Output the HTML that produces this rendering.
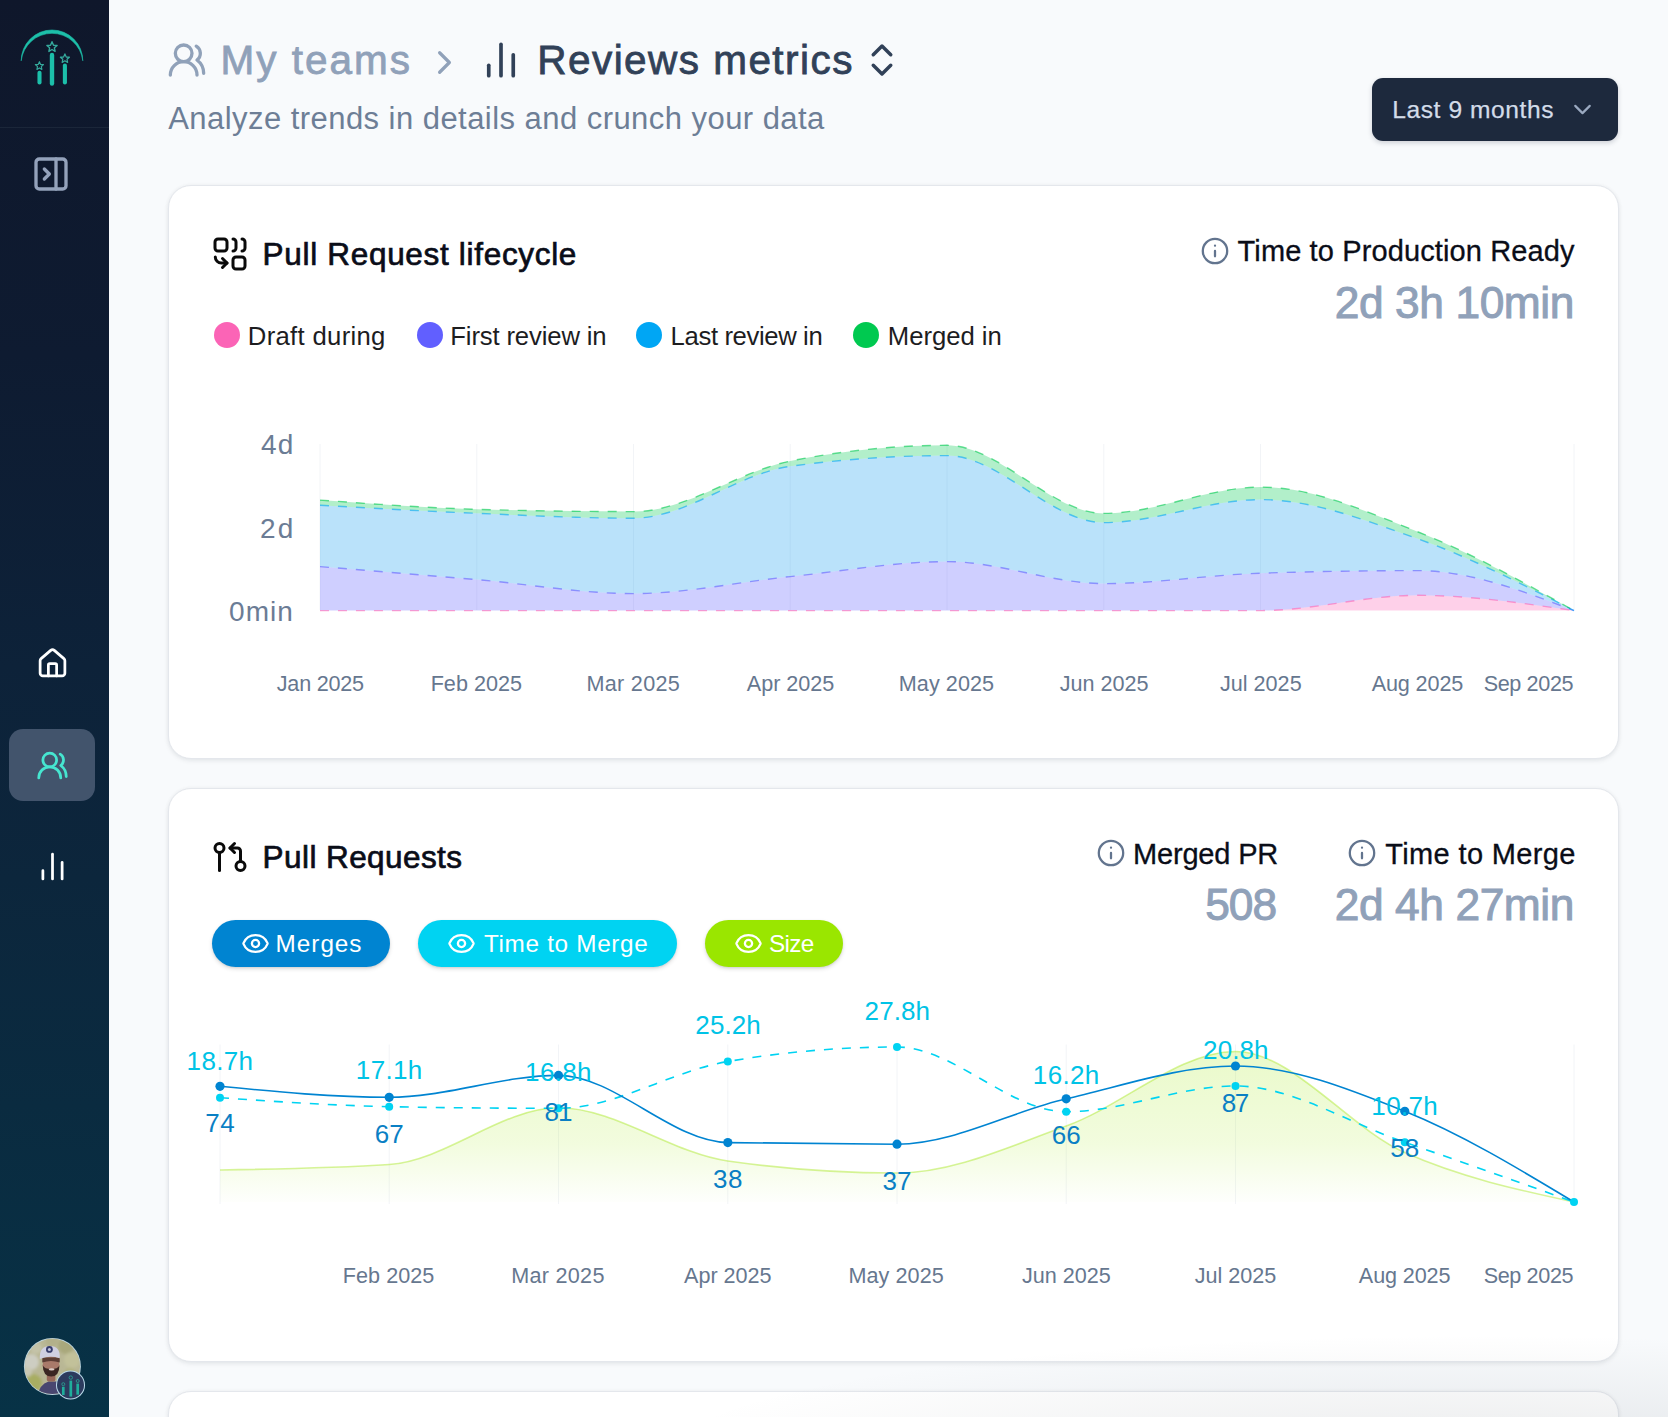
<!DOCTYPE html>
<html lang="en"><head><meta charset="utf-8"><title>Reviews metrics</title>
<style>
html,body{margin:0;padding:0}
body{width:1668px;height:1417px;overflow:hidden;background:#f8fafc;font-family:"Liberation Sans",sans-serif;position:relative}
.t{position:absolute;white-space:nowrap;line-height:1;font-weight:400}
.abs{position:absolute}
svg{position:absolute;overflow:visible}
.ic{fill:none;stroke-linecap:round;stroke-linejoin:round}
.sidebar{position:absolute;left:0;top:0;width:109px;height:1417px;background:linear-gradient(180deg,#0f172b 0%,#0e1b31 25%,#0d2239 47%,#0c263c 62%,#0a2b40 78%,#073246 100%)}
.card{position:absolute;left:168px;width:1449px;background:#fff;border:1px solid #e4e7ec;border-radius:23px;box-shadow:0 2px 5px rgba(15,23,42,.07),0 0 4px rgba(15,23,42,.04)}
.pill{position:absolute;top:920px;height:47px;border-radius:24px;box-shadow:0 2px 4px rgba(0,0,0,.13),0 1px 2px rgba(0,0,0,.08)}
.dot{position:absolute;width:26px;height:26px;border-radius:50%;top:322px}
</style></head><body>
<!-- sidebar -->
<div class="sidebar"></div>
<div class="abs" style="left:0;top:127px;width:109px;height:1px;background:#1b2639"></div>
<div class="abs" style="left:9px;top:729px;width:86px;height:72px;border-radius:14px;background:#42546c"></div>
<!-- logo -->
<svg style="left:0;top:0" width="109" height="127" viewBox="0 0 109 127">
 <path d="M21.2 60.8 A30.8 30.8 0 0 1 82.8 60.8 A31 31 0 0 0 21.2 60.8Z" fill="#1dbfa9" stroke="#1dbfa9" stroke-width="0.6" stroke-linejoin="round"/>
 <g stroke="#1cbfaa" stroke-linecap="round">
  <line x1="39.5" y1="72.8" x2="39.5" y2="82.4" stroke-width="4.1"/><line x1="52" y1="54.9" x2="52" y2="83.6" stroke-width="4.4"/><line x1="64.9" y1="65.6" x2="64.9" y2="82.4" stroke-width="4.1"/>
 </g>
 <g fill="none" stroke="#35a99c" stroke-width="1.4" stroke-linejoin="round">
  <path d="M0,-5.3 L1.5,-1.7 5.1,-1.6 2.4,0.8 3.1,4.4 0,2.5 -3.1,4.4 -2.4,0.8 -5.1,-1.6 -1.5,-1.7Z" transform="translate(52,47)"/>
  <path d="M0,-5.3 L1.5,-1.7 5.1,-1.6 2.4,0.8 3.1,4.4 0,2.5 -3.1,4.4 -2.4,0.8 -5.1,-1.6 -1.5,-1.7Z" transform="translate(39.4,65.9) scale(.8)"/>
  <path d="M0,-5.3 L1.5,-1.7 5.1,-1.6 2.4,0.8 3.1,4.4 0,2.5 -3.1,4.4 -2.4,0.8 -5.1,-1.6 -1.5,-1.7Z" transform="translate(64.9,58.6) scale(.88)"/>
 </g>
</svg>
<!-- collapse icon -->
<svg class="ic" style="left:31px;top:154.2px" width="40" height="40" viewBox="0 0 24 24" stroke="#94a2bb" stroke-width="2"><rect width="18" height="18" x="3" y="3" rx="2"/><path d="M15 3v18"/><path d="m8 9 3 3-3 3"/></svg>
<!-- home -->
<svg class="ic" style="left:36px;top:647.3px" width="33" height="33" viewBox="0 0 24 24" stroke="#fff" stroke-width="2"><path d="M15 21v-8a1 1 0 0 0-1-1h-4a1 1 0 0 0-1 1v8"/><path d="M3 10a2 2 0 0 1 .709-1.528l7-5.999a2 2 0 0 1 2.582 0l7 5.999A2 2 0 0 1 21 10v9a2 2 0 0 1-2 2H5a2 2 0 0 1-2-2z"/></svg>
<!-- teams active -->
<svg class="ic" style="left:35.8px;top:749.2px" width="33" height="33" viewBox="0 0 24 24" stroke="#46e6d0" stroke-width="2"><path d="M18 21a8 8 0 0 0-16 0"/><circle cx="10" cy="8" r="5"/><path d="M22 20c0-3.37-2-6.5-4-8a5 5 0 0 0-.45-8.3"/></svg>
<!-- bars -->
<svg class="ic" style="left:35.5px;top:849.5px" width="33" height="33" viewBox="0 0 24 24" stroke="#fff" stroke-width="2"><path d="M5 21v-6"/><path d="M12 21V3"/><path d="M19 21V9"/></svg>
<!-- avatar -->
<svg style="left:20px;top:1334px" width="70" height="70" viewBox="20 1334 70 70">
 <defs><clipPath id="av"><circle cx="52.4" cy="1366.4" r="27.6"/></clipPath>
 <filter id="b1" x="-20%" y="-20%" width="140%" height="140%"><feGaussianBlur stdDeviation="1.6"/></filter>
 <filter id="b2" x="-20%" y="-20%" width="140%" height="140%"><feGaussianBlur stdDeviation="0.55"/></filter></defs>
 <circle cx="52.4" cy="1366.4" r="28.5" fill="#bfd6df"/>
 <g clip-path="url(#av)">
  <rect x="22" y="1336" width="62" height="62" fill="#b9b795"/>
  <g filter="url(#b1)">
   <circle cx="31" cy="1362" r="8" fill="#cdcdc2"/><circle cx="36" cy="1348" r="6" fill="#c4c3a8"/><circle cx="66" cy="1346" r="8" fill="#a9a87c"/>
   <circle cx="72" cy="1360" r="8" fill="#c2c19a"/><circle cx="33" cy="1383" r="9" fill="#a8ad62"/><circle cx="70" cy="1374" r="6" fill="#b3b27f"/>
   <circle cx="52" cy="1341" r="6" fill="#b2b08a"/><circle cx="27" cy="1372" r="5" fill="#c9c8b4"/>
  </g>
  <g filter="url(#b2)">
   <path d="M37.5 1397 q1.5 -12.5 11 -15.5 l9 0 q9 2.5 13.5 15.5Z" fill="#4a476f"/>
   <rect x="46.8" y="1371" width="8.6" height="10.5" rx="2" fill="#98695a"/>
   <ellipse cx="51" cy="1365.3" rx="8.4" ry="10.2" fill="#a97a6a"/>
   <path d="M42.3 1357.5 h17.4 v5 q-8.7 -3.2 -17.4 0Z" fill="#5b3e36"/>
   <path d="M42.8 1365.5 q0.2 11 8.4 11 q8.2 0 8.2 -11 q-1.6 3.6 -8.2 3.6 q-6.6 0 -8.4 -3.6Z" fill="#3b2823"/>
   <ellipse cx="51.6" cy="1369.4" rx="2.9" ry="1.1" fill="#dccbc4"/>
   <path d="M39.8 1359 q-0.8 -13 10.2 -13 q10.4 0 9.8 12.3 q-10 -3.2 -20 .7Z" fill="#cfcfe1"/>
   <circle cx="49.4" cy="1349.4" r="3.4" fill="#393e6d"/><circle cx="49.4" cy="1349.4" r="1.5" fill="#c3c6dc"/>
  </g>
 </g>
 <circle cx="70.5" cy="1385" r="14.5" fill="#bcdceb"/>
 <circle cx="70.5" cy="1385" r="13.5" fill="#2c3b5e"/>
 <g stroke="#1fae9c" stroke-width="2.7" stroke-linecap="butt"><line x1="63.3" y1="1386.8" x2="63.3" y2="1395"/><line x1="70.8" y1="1380.6" x2="70.8" y2="1396.6"/><line x1="77.7" y1="1383.6" x2="77.7" y2="1394.7"/></g>
 <g fill="none" stroke="#2a9c90" stroke-width="0.9"><circle cx="70.8" cy="1377.6" r="1.7"/><circle cx="63.3" cy="1384.2" r="1.5"/><circle cx="77.7" cy="1381" r="1.5"/></g>
</svg>

<!-- header icons -->
<svg class="ic" style="left:167px;top:39.5px" width="40" height="40" viewBox="0 0 24 24" stroke="#90a1b9" stroke-width="2"><path d="M18 21a8 8 0 0 0-16 0"/><circle cx="10" cy="8" r="5"/><path d="M22 20c0-3.37-2-6.5-4-8a5 5 0 0 0-.45-8.3"/></svg>
<svg class="ic" style="left:425.3px;top:43px" width="39" height="39" viewBox="0 0 24 24" stroke="#90a1b9" stroke-width="2"><path d="m9 18 6-6-6-6"/></svg>
<svg class="ic" style="left:479.7px;top:39.2px" width="42" height="42" viewBox="0 0 24 24" stroke="#314158" stroke-width="2.1"><path d="M5 21v-6"/><path d="M12 21V3"/><path d="M19 21V9"/></svg>
<svg class="ic" style="left:861.2px;top:38.7px" width="42" height="42" viewBox="0 0 24 24" stroke="#314158" stroke-width="2"><path d="m7 15 5 5 5-5"/><path d="m7 9 5-5 5 5"/></svg>
<!-- button -->
<div class="abs" style="left:1372px;top:78px;width:246px;height:63px;border-radius:11px;background:#1d293d;box-shadow:0 2px 5px rgba(15,23,42,.18)"></div>
<svg class="ic" style="left:1567.9px;top:94.9px" width="29" height="29" viewBox="0 0 24 24" stroke="#9aa9c0" stroke-width="1.8"><path d="m6 9 6 6 6-6"/></svg>

<!-- cards -->
<div class="card" style="top:185px;height:572px"></div>
<div class="card" style="top:788px;height:572px"></div>
<div class="card" style="top:1391px;height:100px"></div>

<!-- card1 icons -->
<svg class="ic" style="left:212px;top:235.8px" width="36" height="36" viewBox="0 0 24 24" stroke="#0a0a0a" stroke-width="2"><rect x="2" y="2" width="8" height="8" rx="2"/><path d="M14 2a2 2 0 0 1 2 2v4a2 2 0 0 1-2 2"/><path d="M20 2a2 2 0 0 1 2 2v4a2 2 0 0 1-2 2"/><rect x="14" y="14" width="8" height="8" rx="2"/><path d="M2.2 14a4 4 0 0 0 4 4h3.8"/><path d="m7 15 3 3-3 3"/></svg>
<svg class="ic" style="left:1199.4px;top:235.2px" width="32" height="32" viewBox="0 0 24 24" stroke="#62748e" stroke-width="1.7"><circle cx="12" cy="12" r="9.15"/><path d="M12 16v-4"/><path d="M12 8h.01"/></svg>
<div class="dot" style="left:213.8px;background:#fb64b6"></div>
<div class="dot" style="left:416.7px;background:#615fff"></div>
<div class="dot" style="left:636.2px;background:#00a6f4"></div>
<div class="dot" style="left:853.3px;background:#00c950"></div>

<!-- card2 icons -->
<svg class="ic" style="left:212px;top:839px" width="36" height="36" viewBox="0 0 24 24" stroke="#0a0a0a" stroke-width="2"><circle cx="5" cy="6" r="3"/><path d="M5 9v12"/><circle cx="19" cy="18" r="3"/><path d="m15 9-3-3 3-3"/><path d="M12 6h5a2 2 0 0 1 2 2v7"/></svg>
<svg class="ic" style="left:1095.2px;top:837.2px" width="32" height="32" viewBox="0 0 24 24" stroke="#62748e" stroke-width="1.7"><circle cx="12" cy="12" r="9.15"/><path d="M12 16v-4"/><path d="M12 8h.01"/></svg>
<svg class="ic" style="left:1346.2px;top:837.2px" width="32" height="32" viewBox="0 0 24 24" stroke="#62748e" stroke-width="1.7"><circle cx="12" cy="12" r="9.15"/><path d="M12 16v-4"/><path d="M12 8h.01"/></svg>
<div class="pill" style="left:212px;width:178px;background:#0084d1"></div>
<div class="pill" style="left:418px;width:259px;background:#00d3f2"></div>
<div class="pill" style="left:705px;width:138px;background:#9ae600"></div>
<svg class="ic" style="left:240.9px;top:928.9px" width="29" height="29" viewBox="0 0 24 24" stroke="#fff" stroke-width="1.9"><path d="M2.062 12.348a1 1 0 0 1 0-.696 10.75 10.75 0 0 1 19.876 0 1 1 0 0 1 0 .696 10.75 10.75 0 0 1-19.876 0"/><circle cx="12" cy="12" r="3"/></svg>
<svg class="ic" style="left:446.9px;top:928.9px" width="29" height="29" viewBox="0 0 24 24" stroke="#fff" stroke-width="1.9"><path d="M2.062 12.348a1 1 0 0 1 0-.696 10.75 10.75 0 0 1 19.876 0 1 1 0 0 1 0 .696 10.75 10.75 0 0 1-19.876 0"/><circle cx="12" cy="12" r="3"/></svg>
<svg class="ic" style="left:733.7px;top:928.9px" width="29" height="29" viewBox="0 0 24 24" stroke="#fff" stroke-width="1.9"><path d="M2.062 12.348a1 1 0 0 1 0-.696 10.75 10.75 0 0 1 19.876 0 1 1 0 0 1 0 .696 10.75 10.75 0 0 1-19.876 0"/><circle cx="12" cy="12" r="3"/></svg>

<!-- charts -->
<svg style="left:0;top:0" width="1668" height="1417" viewBox="0 0 1668 1417">
<defs><linearGradient id="lg" x1="0" y1="1049" x2="0" y2="1202" gradientUnits="userSpaceOnUse"><stop offset="0" stop-color="#9ae600" stop-opacity=".21"/><stop offset=".62" stop-color="#9ae600" stop-opacity=".13"/><stop offset="1" stop-color="#9ae600" stop-opacity=".01"/></linearGradient></defs>
<line x1="320.0" x2="320.0" y1="444" y2="610" stroke="#f2f4f7" stroke-width="1"/>
<line x1="476.8" x2="476.8" y1="444" y2="610" stroke="#f2f4f7" stroke-width="1"/>
<line x1="633.5" x2="633.5" y1="444" y2="610" stroke="#f2f4f7" stroke-width="1"/>
<line x1="790.2" x2="790.2" y1="444" y2="610" stroke="#f2f4f7" stroke-width="1"/>
<line x1="947.0" x2="947.0" y1="444" y2="610" stroke="#f2f4f7" stroke-width="1"/>
<line x1="1103.8" x2="1103.8" y1="444" y2="610" stroke="#f2f4f7" stroke-width="1"/>
<line x1="1260.5" x2="1260.5" y1="444" y2="610" stroke="#f2f4f7" stroke-width="1"/>
<line x1="1574.0" x2="1574.0" y1="444" y2="610" stroke="#f2f4f7" stroke-width="1"/>
<path d="M320.0,610.6C372.2,610.6,424.5,610.6,476.8,610.6C529.0,610.6,581.2,610.6,633.5,610.6C685.8,610.6,738.0,610.6,790.2,610.6C842.5,610.6,894.8,610.6,947.0,610.6C999.2,610.6,1051.5,610.6,1103.8,610.6C1156.0,610.6,1208.2,610.6,1260.5,610.6C1312.8,610.6,1365.0,595.3,1417.2,595.3C1469.5,595.3,1521.8,603.0,1574.0,610.6L1574.0,610.6C1521.8,610.6,1469.5,610.6,1417.2,610.6C1365.0,610.6,1312.8,610.6,1260.5,610.6C1208.2,610.6,1156.0,610.6,1103.8,610.6C1051.5,610.6,999.2,610.6,947.0,610.6C894.8,610.6,842.5,610.6,790.2,610.6C738.0,610.6,685.8,610.6,633.5,610.6C581.2,610.6,529.0,610.6,476.8,610.6C424.5,610.6,372.2,610.6,320.0,610.6Z" fill="#fb64b6" fill-opacity="0.3"/>
<path d="M320.0,566.6C372.2,570.9,424.5,575.1,476.8,579.6C529.0,584.1,581.2,593.6,633.5,593.6C685.8,593.6,738.0,581.9,790.2,576.6C842.5,571.3,894.8,561.6,947.0,561.6C999.2,561.6,1051.5,583.6,1103.8,583.6C1156.0,583.6,1208.2,574.9,1260.5,573.2C1312.8,571.5,1365.0,570.6,1417.2,570.6C1469.5,570.6,1521.8,590.6,1574.0,610.6L1574.0,610.6C1521.8,603.0,1469.5,595.3,1417.2,595.3C1365.0,595.3,1312.8,610.6,1260.5,610.6C1208.2,610.6,1156.0,610.6,1103.8,610.6C1051.5,610.6,999.2,610.6,947.0,610.6C894.8,610.6,842.5,610.6,790.2,610.6C738.0,610.6,685.8,610.6,633.5,610.6C581.2,610.6,529.0,610.6,476.8,610.6C424.5,610.6,372.2,610.6,320.0,610.6Z" fill="#615fff" fill-opacity="0.3"/>
<path d="M320.0,505.3C372.2,508.2,424.5,511.2,476.8,513.3C529.0,515.5,581.2,518.2,633.5,518.2C685.8,518.2,738.0,473.4,790.2,466.3C842.5,459.2,894.8,455.6,947.0,455.6C999.2,455.6,1051.5,522.6,1103.8,522.6C1156.0,522.6,1208.2,499.6,1260.5,499.6C1312.8,499.6,1365.0,520.1,1417.2,538.6C1469.5,557.1,1521.8,583.9,1574.0,610.6L1574.0,610.6C1521.8,590.6,1469.5,570.6,1417.2,570.6C1365.0,570.6,1312.8,571.5,1260.5,573.2C1208.2,574.9,1156.0,583.6,1103.8,583.6C1051.5,583.6,999.2,561.6,947.0,561.6C894.8,561.6,842.5,571.3,790.2,576.6C738.0,581.9,685.8,593.6,633.5,593.6C581.2,593.6,529.0,584.1,476.8,579.6C424.5,575.1,372.2,570.9,320.0,566.6Z" fill="#1a9ff0" fill-opacity="0.3"/>
<path d="M320.0,500.1C372.2,503.9,424.5,507.8,476.8,509.3C529.0,510.8,581.2,511.6,633.5,511.6C685.8,511.6,738.0,471.6,790.2,461.1C842.5,450.6,894.8,445.3,947.0,445.3C999.2,445.3,1051.5,513.4,1103.8,513.4C1156.0,513.4,1208.2,487.1,1260.5,487.1C1312.8,487.1,1365.0,511.0,1417.2,531.6C1469.5,552.2,1521.8,581.4,1574.0,610.6L1574.0,610.6C1521.8,583.9,1469.5,557.1,1417.2,538.6C1365.0,520.1,1312.8,499.6,1260.5,499.6C1208.2,499.6,1156.0,522.6,1103.8,522.6C1051.5,522.6,999.2,455.6,947.0,455.6C894.8,455.6,842.5,459.2,790.2,466.3C738.0,473.4,685.8,518.2,633.5,518.2C581.2,518.2,529.0,515.5,476.8,513.3C424.5,511.2,372.2,508.2,320.0,505.3Z" fill="#00c950" fill-opacity="0.3"/>
<path d="M320.0,610.6C372.2,610.6,424.5,610.6,476.8,610.6C529.0,610.6,581.2,610.6,633.5,610.6C685.8,610.6,738.0,610.6,790.2,610.6C842.5,610.6,894.8,610.6,947.0,610.6C999.2,610.6,1051.5,610.6,1103.8,610.6C1156.0,610.6,1208.2,610.6,1260.5,610.6C1312.8,610.6,1365.0,595.3,1417.2,595.3C1469.5,595.3,1521.8,603.0,1574.0,610.6" fill="none" stroke="#fb64b6" stroke-opacity="0.6" stroke-width="1.4" stroke-dasharray="9 9"/>
<path d="M320.0,566.6C372.2,570.9,424.5,575.1,476.8,579.6C529.0,584.1,581.2,593.6,633.5,593.6C685.8,593.6,738.0,581.9,790.2,576.6C842.5,571.3,894.8,561.6,947.0,561.6C999.2,561.6,1051.5,583.6,1103.8,583.6C1156.0,583.6,1208.2,574.9,1260.5,573.2C1312.8,571.5,1365.0,570.6,1417.2,570.6C1469.5,570.6,1521.8,590.6,1574.0,610.6" fill="none" stroke="#615fff" stroke-opacity="0.6" stroke-width="1.4" stroke-dasharray="9 9"/>
<path d="M320.0,505.3C372.2,508.2,424.5,511.2,476.8,513.3C529.0,515.5,581.2,518.2,633.5,518.2C685.8,518.2,738.0,473.4,790.2,466.3C842.5,459.2,894.8,455.6,947.0,455.6C999.2,455.6,1051.5,522.6,1103.8,522.6C1156.0,522.6,1208.2,499.6,1260.5,499.6C1312.8,499.6,1365.0,520.1,1417.2,538.6C1469.5,557.1,1521.8,583.9,1574.0,610.6" fill="none" stroke="#00a6f4" stroke-opacity="0.6" stroke-width="1.4" stroke-dasharray="9 9"/>
<path d="M320.0,500.1C372.2,503.9,424.5,507.8,476.8,509.3C529.0,510.8,581.2,511.6,633.5,511.6C685.8,511.6,738.0,471.6,790.2,461.1C842.5,450.6,894.8,445.3,947.0,445.3C999.2,445.3,1051.5,513.4,1103.8,513.4C1156.0,513.4,1208.2,487.1,1260.5,487.1C1312.8,487.1,1365.0,511.0,1417.2,531.6C1469.5,552.2,1521.8,581.4,1574.0,610.6" fill="none" stroke="#00c950" stroke-opacity="0.6" stroke-width="1.4" stroke-dasharray="9 9"/>
<line x1="220.0" x2="220.0" y1="1044.5" y2="1204" stroke="#f2f4f7" stroke-width="1"/>
<line x1="389.2" x2="389.2" y1="1044.5" y2="1204" stroke="#f2f4f7" stroke-width="1"/>
<line x1="558.5" x2="558.5" y1="1044.5" y2="1204" stroke="#f2f4f7" stroke-width="1"/>
<line x1="727.8" x2="727.8" y1="1044.5" y2="1204" stroke="#f2f4f7" stroke-width="1"/>
<line x1="897.0" x2="897.0" y1="1044.5" y2="1204" stroke="#f2f4f7" stroke-width="1"/>
<line x1="1066.2" x2="1066.2" y1="1044.5" y2="1204" stroke="#f2f4f7" stroke-width="1"/>
<line x1="1235.5" x2="1235.5" y1="1044.5" y2="1204" stroke="#f2f4f7" stroke-width="1"/>
<line x1="1574.0" x2="1574.0" y1="1044.5" y2="1204" stroke="#f2f4f7" stroke-width="1"/>
<path d="M220.0,1170.0C276.4,1169.1,332.8,1168.2,389.2,1164.5C445.7,1160.8,502.1,1107.8,558.5,1107.8C614.9,1107.8,671.3,1153.0,727.8,1161.0C784.2,1169.0,840.6,1173.0,897.0,1173.0C953.4,1173.0,1009.8,1146.2,1066.2,1126.0C1122.7,1105.8,1179.1,1051.5,1235.5,1051.5C1291.9,1051.5,1348.3,1127.5,1404.8,1152.6C1461.2,1177.7,1517.6,1189.8,1574.0,1202.0L1574.0,1202L220.0,1202Z" fill="url(#lg)"/>
<path d="M220.0,1170.0C276.4,1169.1,332.8,1168.2,389.2,1164.5C445.7,1160.8,502.1,1107.8,558.5,1107.8C614.9,1107.8,671.3,1153.0,727.8,1161.0C784.2,1169.0,840.6,1173.0,897.0,1173.0C953.4,1173.0,1009.8,1146.2,1066.2,1126.0C1122.7,1105.8,1179.1,1051.5,1235.5,1051.5C1291.9,1051.5,1348.3,1127.5,1404.8,1152.6C1461.2,1177.7,1517.6,1189.8,1574.0,1202.0" fill="none" stroke="#a6e61e" stroke-opacity="0.45" stroke-width="1.6"/>
<path d="M220.0,1097.7C276.4,1101.6,332.8,1105.5,389.2,1106.7C445.7,1107.8,502.1,1108.3,558.5,1108.3C614.9,1108.3,671.3,1071.2,727.8,1061.5C784.2,1051.8,840.6,1047.0,897.0,1047.0C953.4,1047.0,1009.8,1111.7,1066.2,1111.7C1122.7,1111.7,1179.1,1086.0,1235.5,1086.0C1291.9,1086.0,1348.3,1123.0,1404.8,1142.3C1461.2,1161.7,1517.6,1181.8,1574.0,1202.0" fill="none" stroke="#00d3f2" stroke-width="1.6" stroke-dasharray="9 9"/>
<path d="M220.0,1086.3C276.4,1091.8,332.8,1097.3,389.2,1097.3C445.7,1097.3,502.1,1075.4,558.5,1075.4C614.9,1075.4,671.3,1141.6,727.8,1142.6C784.2,1143.6,840.6,1144.2,897.0,1144.2C953.4,1144.2,1009.8,1111.9,1066.2,1098.8C1122.7,1085.8,1179.1,1066.0,1235.5,1066.0C1291.9,1066.0,1348.3,1088.7,1404.8,1111.3C1461.2,1134.0,1517.6,1168.0,1574.0,1202.0" fill="none" stroke="#0084d1" stroke-width="1.6"/>
<circle cx="220.0" cy="1097.7" r="4" fill="#00d3f2"/>
<circle cx="389.2" cy="1106.7" r="4" fill="#00d3f2"/>
<circle cx="558.5" cy="1108.3" r="4" fill="#00d3f2"/>
<circle cx="727.8" cy="1061.5" r="4" fill="#00d3f2"/>
<circle cx="897.0" cy="1047.0" r="4" fill="#00d3f2"/>
<circle cx="1066.2" cy="1111.7" r="4" fill="#00d3f2"/>
<circle cx="1235.5" cy="1086.0" r="4" fill="#00d3f2"/>
<circle cx="1404.8" cy="1142.3" r="4" fill="#00d3f2"/>
<circle cx="1574.0" cy="1202.0" r="4" fill="#00d3f2"/>
<circle cx="220.0" cy="1086.3" r="4.6" fill="#0084d1"/>
<circle cx="389.2" cy="1097.3" r="4.6" fill="#0084d1"/>
<circle cx="558.5" cy="1075.4" r="4.6" fill="#0084d1"/>
<circle cx="727.8" cy="1142.6" r="4.6" fill="#0084d1"/>
<circle cx="897.0" cy="1144.2" r="4.6" fill="#0084d1"/>
<circle cx="1066.2" cy="1098.8" r="4.6" fill="#0084d1"/>
<circle cx="1235.5" cy="1066.0" r="4.6" fill="#0084d1"/>
<circle cx="1404.8" cy="1111.3" r="4.6" fill="#0084d1"/>
</svg>

<span class="t" style="left:220.50px;top:40.15px;font-size:40.5px;color:#90a1b9;letter-spacing:2.000px;-webkit-text-stroke:0.8px #90a1b9;">My teams</span>
<span class="t" style="left:537.30px;top:40.15px;font-size:40.5px;color:#314158;letter-spacing:1.450px;-webkit-text-stroke:0.8px #314158;">Reviews metrics</span>
<span class="t" style="left:168.20px;top:103.40px;font-size:31px;color:#6d7e96;letter-spacing:0.451px;">Analyze trends in details and crunch your data</span>
<span class="t" style="left:1392.30px;top:97.60px;font-size:24.6px;color:#d3dce9;letter-spacing:0.558px;-webkit-text-stroke:0.25px #d3dce9;">Last 9 months</span>
<span class="t" style="left:262.60px;top:238.65px;font-size:31.5px;color:#0a0d18;letter-spacing:0.686px;-webkit-text-stroke:0.7px #0a0d18;">Pull Request lifecycle</span>
<span class="t" style="left:1237.60px;top:236.90px;font-size:29px;color:#0a0d18;letter-spacing:0.117px;-webkit-text-stroke:0.3px #0a0d18;">Time to Production Ready</span>
<span class="t" style="left:1334.80px;top:280.75px;font-size:44.3px;color:#90a1b9;letter-spacing:-0.420px;-webkit-text-stroke:1.0px #90a1b9;">2d 3h 10min</span>
<span class="t" style="left:247.80px;top:323.55px;font-size:25.7px;color:#1d1d1f;letter-spacing:0.309px;">Draft during</span>
<span class="t" style="left:450.30px;top:323.55px;font-size:25.7px;color:#1d1d1f;letter-spacing:-0.150px;">First review in</span>
<span class="t" style="left:670.60px;top:323.55px;font-size:25.7px;color:#1d1d1f;letter-spacing:-0.377px;">Last review in</span>
<span class="t" style="left:887.80px;top:323.55px;font-size:25.7px;color:#1d1d1f;letter-spacing:-0.025px;">Merged in</span>
<span class="t" style="left:261.00px;top:430.90px;font-size:28px;color:#6b7c95;letter-spacing:1.200px;">4d</span>
<span class="t" style="left:260.00px;top:514.90px;font-size:28px;color:#6b7c95;letter-spacing:2.200px;">2d</span>
<span class="t" style="left:229.00px;top:597.90px;font-size:28px;color:#6b7c95;letter-spacing:1.067px;">0min</span>
<span class="t" style="left:276.75px;top:673.10px;font-size:21.6px;color:#66778f;letter-spacing:-0.214px;">Jan 2025</span>
<span class="t" style="left:430.65px;top:673.10px;font-size:21.6px;color:#66778f;letter-spacing:0.029px;">Feb 2025</span>
<span class="t" style="left:586.50px;top:673.10px;font-size:21.6px;color:#66778f;letter-spacing:0.286px;">Mar 2025</span>
<span class="t" style="left:746.80px;top:673.10px;font-size:21.6px;color:#66778f;letter-spacing:-0.014px;">Apr 2025</span>
<span class="t" style="left:898.75px;top:673.10px;font-size:21.6px;color:#66778f;letter-spacing:0.071px;">May 2025</span>
<span class="t" style="left:1059.75px;top:673.10px;font-size:21.6px;color:#66778f;letter-spacing:0.000px;">Jun 2025</span>
<span class="t" style="left:1220.00px;top:673.10px;font-size:21.6px;color:#66778f;letter-spacing:0.000px;">Jul 2025</span>
<span class="t" style="left:1371.65px;top:673.10px;font-size:21.6px;color:#66778f;letter-spacing:-0.114px;">Aug 2025</span>
<span class="t" style="left:1483.70px;top:673.10px;font-size:21.6px;color:#66778f;letter-spacing:-0.371px;">Sep 2025</span>
<span class="t" style="left:262.60px;top:841.65px;font-size:31.5px;color:#0a0d18;letter-spacing:0.425px;-webkit-text-stroke:0.7px #0a0d18;">Pull Requests</span>
<span class="t" style="left:1133.00px;top:839.90px;font-size:29px;color:#0a0d18;letter-spacing:-0.175px;-webkit-text-stroke:0.3px #0a0d18;">Merged PR</span>
<span class="t" style="left:1205.20px;top:882.75px;font-size:44.3px;color:#90a1b9;letter-spacing:-1.000px;-webkit-text-stroke:1.0px #90a1b9;">508</span>
<span class="t" style="left:1385.30px;top:839.90px;font-size:29px;color:#0a0d18;letter-spacing:0.350px;-webkit-text-stroke:0.3px #0a0d18;">Time to Merge</span>
<span class="t" style="left:1334.80px;top:882.75px;font-size:44.3px;color:#90a1b9;letter-spacing:-0.420px;-webkit-text-stroke:1.0px #90a1b9;">2d 4h 27min</span>
<span class="t" style="left:275.60px;top:931.75px;font-size:24.3px;color:#ffffff;letter-spacing:0.980px;">Merges</span>
<span class="t" style="left:483.90px;top:931.75px;font-size:24.3px;color:#ffffff;letter-spacing:0.683px;">Time to Merge</span>
<span class="t" style="left:769.00px;top:931.75px;font-size:24.3px;color:#ffffff;letter-spacing:-0.667px;">Size</span>
<span class="t" style="left:342.85px;top:1265.10px;font-size:21.6px;color:#66778f;letter-spacing:0.029px;">Feb 2025</span>
<span class="t" style="left:511.20px;top:1265.10px;font-size:21.6px;color:#66778f;letter-spacing:0.286px;">Mar 2025</span>
<span class="t" style="left:684.00px;top:1265.10px;font-size:21.6px;color:#66778f;letter-spacing:-0.014px;">Apr 2025</span>
<span class="t" style="left:848.45px;top:1265.10px;font-size:21.6px;color:#66778f;letter-spacing:0.071px;">May 2025</span>
<span class="t" style="left:1021.95px;top:1265.10px;font-size:21.6px;color:#66778f;letter-spacing:0.000px;">Jun 2025</span>
<span class="t" style="left:1194.70px;top:1265.10px;font-size:21.6px;color:#66778f;letter-spacing:0.000px;">Jul 2025</span>
<span class="t" style="left:1358.85px;top:1265.10px;font-size:21.6px;color:#66778f;letter-spacing:-0.114px;">Aug 2025</span>
<span class="t" style="left:1483.70px;top:1265.10px;font-size:21.6px;color:#66778f;letter-spacing:-0.371px;">Sep 2025</span>
<span class="t" style="left:186.60px;top:1048.40px;font-size:26px;color:#00c3e6;letter-spacing:0.350px;">18.7h</span>
<span class="t" style="left:205.20px;top:1110.40px;font-size:26px;color:#0a7fc4;letter-spacing:0.600px;">74</span>
<span class="t" style="left:355.85px;top:1057.40px;font-size:26px;color:#00c3e6;letter-spacing:0.350px;">17.1h</span>
<span class="t" style="left:374.65px;top:1121.40px;font-size:26px;color:#0a7fc4;letter-spacing:0.200px;">67</span>
<span class="t" style="left:525.10px;top:1059.40px;font-size:26px;color:#00c3e6;letter-spacing:0.350px;">16.8h</span>
<span class="t" style="left:544.50px;top:1099.40px;font-size:26px;color:#0a7fc4;letter-spacing:-1.000px;">81</span>
<span class="t" style="left:695.35px;top:1012.40px;font-size:26px;color:#00c3e6;letter-spacing:0.100px;">25.2h</span>
<span class="t" style="left:713.05px;top:1166.40px;font-size:26px;color:#0a7fc4;letter-spacing:0.400px;">38</span>
<span class="t" style="left:864.60px;top:998.40px;font-size:26px;color:#00c3e6;letter-spacing:0.100px;">27.8h</span>
<span class="t" style="left:882.50px;top:1168.40px;font-size:26px;color:#0a7fc4;letter-spacing:0.000px;">37</span>
<span class="t" style="left:1032.85px;top:1062.40px;font-size:26px;color:#00c3e6;letter-spacing:0.350px;">16.2h</span>
<span class="t" style="left:1051.70px;top:1122.40px;font-size:26px;color:#0a7fc4;letter-spacing:0.100px;">66</span>
<span class="t" style="left:1203.10px;top:1037.40px;font-size:26px;color:#00c3e6;letter-spacing:0.100px;">20.8h</span>
<span class="t" style="left:1221.80px;top:1090.40px;font-size:26px;color:#0a7fc4;letter-spacing:-1.600px;">87</span>
<span class="t" style="left:1371.35px;top:1093.40px;font-size:26px;color:#00c3e6;letter-spacing:0.350px;">10.7h</span>
<span class="t" style="left:1390.20px;top:1135.40px;font-size:26px;color:#0a7fc4;letter-spacing:0.100px;">58</span>

<!-- bottom-right vignette -->
<div class="abs" style="left:0;top:0;width:1668px;height:1417px;pointer-events:none;background:radial-gradient(ellipse 820px 120px at 1480px 1455px,rgba(90,100,110,.13),rgba(90,100,110,0) 100%)"></div>
</body></html>
